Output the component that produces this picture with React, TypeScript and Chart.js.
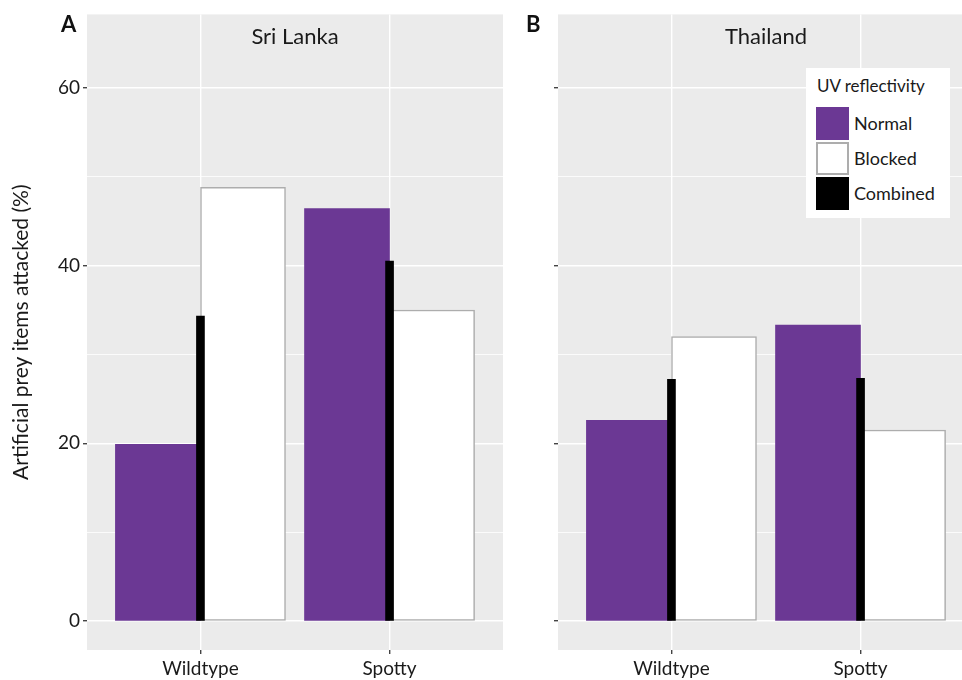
import React, { useEffect, useRef } from "react";
import { Chart, registerables } from "chart.js";

Chart.register(...registerables);

const categories = ["Wildtype", "Spotty"];
const panelTitles = ["Sri Lanka", "Thailand"];
const panelLetters = ["A", "B"];
const seriesNames = ["Normal", "Blocked", "Combined"];
const legendTitle = "UV reflectivity";
const yAxisTitle = "Artificial prey items attacked (%)";

const sriLankaNormal = [19.9, 46.4];
const sriLankaBlocked = [48.8, 35.0];
const sriLankaCombined = [34.3, 40.5];
const thailandNormal = [22.6, 33.3];
const thailandBlocked = [32.0, 21.5];
const thailandCombined = [27.2, 27.3];

const yTicks = [0, 10, 20, 30, 40, 50, 60];
const yLabelled = [0, 20, 40, 60];

const PURPLE = "#6B3894";
const BLOCK_BORDER = "#ADADAD";
const PANEL_BG = "#EBEBEB";
const FONT = "Lato, 'Open Sans', sans-serif";
const DODGE = 0.225;
const WIDE_BAR = 85;
const THIN_BAR = 8;

const panelBg = {
  id: "panelBg",
  beforeDraw(chart: any) {
    const { ctx, chartArea } = chart;
    ctx.save();
    ctx.fillStyle = PANEL_BG;
    ctx.fillRect(chartArea.left, chartArea.top, chartArea.right - chartArea.left, chartArea.bottom - chartArea.top);
    ctx.restore();
  },
};

const panelTitle = {
  id: "panelTitle",
  afterDraw(chart: any, _args: any, opts: any) {
    const { ctx, chartArea } = chart;
    ctx.save();
    ctx.fillStyle = "#1a1a1a";
    ctx.font = `22px ${FONT}`;
    ctx.textAlign = "center";
    ctx.textBaseline = "middle";
    ctx.fillText(opts.text, (chartArea.left + chartArea.right) / 2, 37);
    ctx.restore();
  },
};

type PanelProps = {
  title: string;
  normal: number[];
  blocked: number[];
  combined: number[];
  showLabels: boolean;
  left: number;
  width: number;
  yAxisWidth: number;
};

function Panel({ title, normal, blocked, combined, showLabels, left, width, yAxisWidth }: PanelProps) {
  const ref = useRef<HTMLCanvasElement | null>(null);
  useEffect(() => {
    if (!ref.current) return;
    const pts = (vals: number[], off: number) => vals.map((v, i) => ({ x: i + 1 + off, y: v }));
    const chart = new Chart(ref.current, {
      type: "bar",
      data: {
        datasets: [
          {
            label: seriesNames[2],
            data: pts(combined, 0),
            backgroundColor: "#000",
            barThickness: THIN_BAR,
            grouped: false,
            order: 0,
          } as any,
          {
            label: seriesNames[0],
            data: pts(normal, -DODGE),
            backgroundColor: PURPLE,
            barThickness: WIDE_BAR,
            grouped: false,
            order: 1,
          } as any,
          {
            label: seriesNames[1],
            data: pts(blocked, DODGE),
            backgroundColor: "#FFFFFF",
            borderColor: BLOCK_BORDER,
            borderWidth: 1.5,
            borderSkipped: false,
            barThickness: WIDE_BAR,
            grouped: false,
            order: 2,
          } as any,
        ],
      },
      options: {
        animation: false,
        responsive: false,
        maintainAspectRatio: false,
        layout: { padding: { top: 12, right: 2, left: 0, bottom: 0 } },
        plugins: {
          legend: { display: false },
          tooltip: { enabled: false },
          panelTitle: { text: title },
        } as any,
        scales: {
          x: {
            type: "linear",
            min: 0.4,
            max: 2.6,
            offset: false,
            afterBuildTicks: (s: any) => {
              s.ticks = categories.map((_, i) => ({ value: i + 1 }));
            },
            ticks: {
              callback: (v: any) => categories[Math.round(Number(v)) - 1] ?? "",
              font: { family: FONT, size: 19 },
              color: "#1a1a1a",
              padding: 3,
              autoSkip: false,
              maxRotation: 0,
            },
            grid: { offset: false, color: "#FFFFFF", lineWidth: 1.4, tickColor: "#444", tickLength: 4 },
            border: { display: false },
            afterFit: (s: any) => {
              s.height = 30;
            },
          },
          y: {
            min: -3.25,
            max: 68.25,
            afterBuildTicks: (s: any) => {
              s.ticks = yTicks.map((v) => ({ value: v }));
            },
            ticks: {
              callback: (v: any) => (showLabels && yLabelled.includes(Number(v)) ? String(v) : ""),
              font: { family: FONT, size: 19 },
              color: "#1a1a1a",
              padding: 3,
              autoSkip: false,
            },
            grid: {
              color: "#FFFFFF",
              lineWidth: (c: any) => (yLabelled.includes(c.tick?.value) ? 1.4 : 0.8),
              tickColor: (c: any) => (yLabelled.includes(c.tick?.value) ? "#444" : "rgba(0,0,0,0)"),
              tickLength: 4,
            },
            border: { display: false },
            title: {
              display: showLabels,
              text: yAxisTitle,
              font: { family: FONT, size: 21 },
              color: "#1a1a1a",
              padding: { top: 9, bottom: 0 },
            },
            afterFit: (s: any) => {
              s.width = yAxisWidth;
            },
          },
        } as any,
      },
      plugins: [panelBg, panelTitle],
    });
    return () => chart.destroy();
  }, []);
  return (
    <canvas
      ref={ref}
      width={width}
      height={680}
      style={{ position: "absolute", left, top: 0, width, height: 680 }}
    />
  );
}

const keyStyle = (i: number): React.CSSProperties => ({
  position: "absolute",
  left: 10,
  top: 39 + i * 35,
  width: 33,
  height: 33,
  boxSizing: "border-box",
  background: i === 0 ? PURPLE : i === 1 ? "#FFFFFF" : "#000",
  border: i === 1 ? `2px solid ${BLOCK_BORDER}` : "none",
});

export default function App() {
  const keyOrder = [0, 1, 2];
  return (
    <div
      style={{
        position: "absolute",
        left: 0,
        top: 0,
        width: 962,
        height: 680,
        overflow: "hidden",
        background: "#FFFFFF",
        fontFamily: FONT,
      }}
    >
      <Panel
        title={panelTitles[0]}
        normal={sriLankaNormal}
        blocked={sriLankaBlocked}
        combined={sriLankaCombined}
        showLabels={true}
        left={0}
        width={505}
        yAxisWidth={87}
      />
      <Panel
        title={panelTitles[1]}
        normal={thailandNormal}
        blocked={thailandBlocked}
        combined={thailandCombined}
        showLabels={false}
        left={505}
        width={471}
        yAxisWidth={53}
      />
      <div style={{ position: "absolute", left: 61, top: 13, fontSize: 22, fontWeight: 700, lineHeight: 1, color: "#111" }}>
        {panelLetters[0]}
      </div>
      <div style={{ position: "absolute", left: 526, top: 13, fontSize: 22, fontWeight: 700, lineHeight: 1, color: "#111" }}>
        {panelLetters[1]}
      </div>
      <div style={{ position: "absolute", left: 806, top: 68, width: 144, height: 150, background: "#FFFFFF" }}>
        <div style={{ position: "absolute", left: 11, top: 8, fontSize: 17, lineHeight: "20px", color: "#1a1a1a", whiteSpace: "nowrap" }}>
          {legendTitle}
        </div>
        {keyOrder.map((i) => (
          <React.Fragment key={i}>
            <div style={keyStyle(i)} />
            <div
              style={{
                position: "absolute",
                left: 48,
                top: 39 + i * 35,
                height: 33,
                lineHeight: "33px",
                fontSize: 18,
                color: "#1a1a1a",
                whiteSpace: "nowrap",
              }}
            >
              {seriesNames[i]}
            </div>
          </React.Fragment>
        ))}
      </div>
    </div>
  );
}
